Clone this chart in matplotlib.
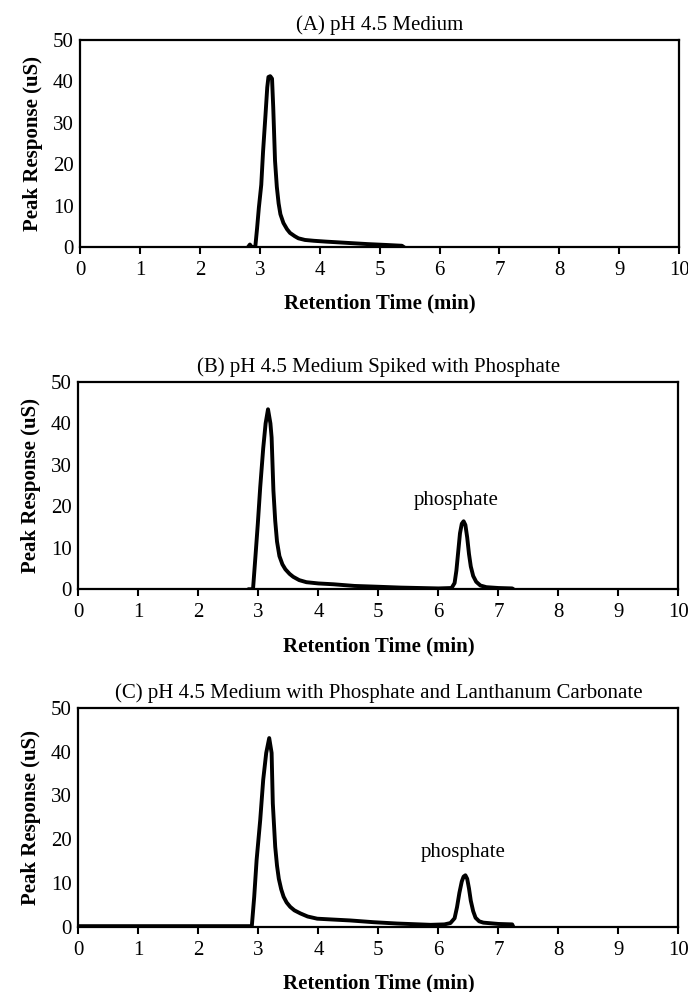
import matplotlib
matplotlib.use("Agg")
import matplotlib.pyplot as plt

plt.rcParams["font.family"] = ["Liberation Serif", "DejaVu Serif"]

# ---- datos leidos del cromatograma (tiempo en min, respuesta en uS) ----
# (A) pH 4.5 Medium
t_a = [2.80, 2.83, 2.86, 2.92, 2.95, 2.98, 3.02, 3.05, 3.09, 3.12, 3.14, 3.17, 3.20,
       3.22, 3.25, 3.28, 3.31, 3.34, 3.39, 3.45, 3.50, 3.58, 3.64, 3.75, 3.90, 4.10,
       4.45, 4.80, 5.10, 5.37, 5.40]
y_a = [0.0, 0.6, 0.0, 0.0, 4.5, 9.5, 15.0, 23.0, 31.7, 38.5, 41.0, 41.2, 40.6,
       33.7, 20.8, 14.5, 10.5, 7.9, 5.8, 4.3, 3.4, 2.6, 2.1, 1.7, 1.5, 1.3,
       1.0, 0.7, 0.5, 0.3, 0.0]

# (B) pH 4.5 Medium Spiked with Phosphate
t_b = [2.85, 2.91, 2.95, 2.99, 3.03, 3.08, 3.12, 3.16, 3.20, 3.22, 3.25, 3.28, 3.31,
       3.35, 3.40, 3.45, 3.52, 3.58, 3.68, 3.80, 4.00, 4.25, 4.60, 5.00, 5.37, 6.00,
       6.22, 6.27, 6.30, 6.33, 6.36, 6.39, 6.42, 6.45, 6.48, 6.51, 6.54, 6.58, 6.63,
       6.70, 6.80, 7.00, 7.23, 7.25]
y_b = [0.0, 0.0, 7.8, 15.8, 24.6, 34.0, 40.0, 43.4, 40.0, 36.6, 23.8, 16.5, 11.5,
       8.0, 6.0, 4.8, 3.7, 3.0, 2.2, 1.7, 1.4, 1.2, 0.8, 0.6, 0.4, 0.2,
       0.3, 1.5, 4.5, 9.0, 13.5, 15.8, 16.4, 15.5, 12.5, 8.5, 5.5, 3.2, 1.8,
       0.9, 0.5, 0.3, 0.2, 0.0]

# (C) pH 4.5 Medium with Phosphate and Lanthanum Carbonate
t_c = [0.00, 2.89, 2.93, 2.97, 3.03, 3.08, 3.13, 3.18, 3.22, 3.24, 3.28, 3.31, 3.34,
       3.38, 3.42, 3.47, 3.53, 3.60, 3.70, 3.82, 3.98, 4.25, 4.53, 4.92, 5.31, 5.87,
       6.10, 6.20, 6.27, 6.31, 6.35, 6.39, 6.42, 6.45, 6.48, 6.51, 6.54, 6.58, 6.62,
       6.68, 6.75, 7.00, 7.23, 7.25]
y_c = [0.2, 0.2, 6.9, 15.3, 24.4, 33.6, 39.7, 43.1, 39.7, 28.2, 18.3, 14.0, 11.0,
       8.6, 6.9, 5.6, 4.6, 3.8, 3.1, 2.4, 1.9, 1.7, 1.5, 1.1, 0.8, 0.5,
       0.6, 0.9, 2.0, 4.5, 7.8, 10.4, 11.5, 11.8, 11.0, 8.8, 6.0, 3.6, 2.1,
       1.3, 1.0, 0.7, 0.6, 0.0]

titulos = ["(A) pH 4.5 Medium",
           "(B) pH 4.5 Medium Spiked with Phosphate",
           "(C) pH 4.5 Medium with Phosphate and Lanthanum Carbonate"]
etiquetas = [None, ("phosphate", 6.3, 21.4), ("phosphate", 6.42, 17.1)]
series = [(t_a, y_a), (t_b, y_b), (t_c, y_c)]

# posiciones de los ejes en fraccion de figura (left, bottom, width, height)
posiciones = [[0.117, 0.751, 0.870, 0.209],
              [0.114, 0.406, 0.872, 0.209],
              [0.114, 0.0655, 0.872, 0.221]]

FS = 15

fig = plt.figure(figsize=(6.88, 9.92), dpi=100)

for i, ((t, y), pos) in enumerate(zip(series, posiciones)):
    ax = fig.add_axes(pos)
    ax.plot(t, y, color="black", lw=2.8)
    ax.set_xlim(0, 10)
    ax.set_ylim(0, 50)
    ax.set_xticks(range(0, 11))
    ax.set_yticks(range(0, 51, 10))
    ax.tick_params(axis="x", direction="out", length=5, width=1.5, labelsize=FS, pad=5)
    ax.tick_params(axis="y", length=0, labelsize=FS, pad=5)
    for s in ax.spines.values():
        s.set_linewidth(1.6)
    ax.set_title(titulos[i], fontsize=FS, pad=7)
    ax.set_xlabel("Retention Time (min)", fontsize=FS, fontweight="bold", labelpad=10)
    ax.set_ylabel("Peak Response (uS)", fontsize=FS, fontweight="bold", labelpad=7)
    if etiquetas[i]:
        txt, xt, yt = etiquetas[i]
        ax.text(xt, yt, txt, ha="center", va="center", fontsize=FS)

fig.savefig("out.png", dpi=100)
